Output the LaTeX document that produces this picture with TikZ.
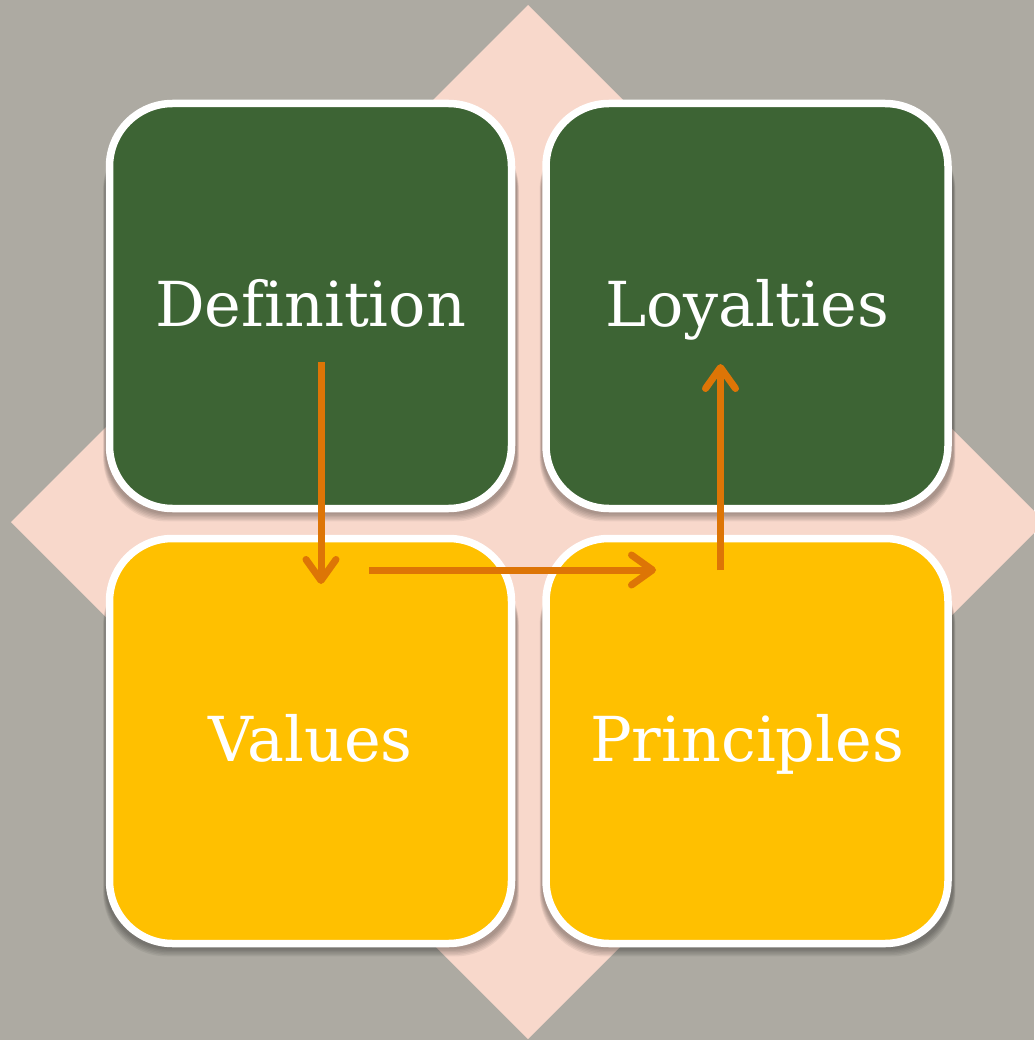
\documentclass[tikz,border=0pt]{standalone}
\usepackage{fontspec}
\setmainfont[Ligatures=CommonOff]{DejaVu Serif}
\usetikzlibrary{arrows.meta,calc}
\definecolor{bggrey}{RGB}{173,170,162}
\definecolor{diapink}{RGB}{248,216,203}
\definecolor{boxgreen}{RGB}{61,100,52}
\definecolor{boxyellow}{RGB}{255,192,0}
\definecolor{arrorange}{RGB}{221,117,6}
\tikzset{
  tile/.style={rectangle, rounded corners=63pt, draw=white, line width=7.5pt,
    minimum width=402pt, minimum height=405pt, text=white,
    font=\fontsize{62}{70}\selectfont, text height=48pt, text depth=8pt, inner sep=0pt},
  greentile/.style={tile, fill=boxgreen},
  yellowtile/.style={tile, fill=boxyellow},
  flow/.style={draw=arrorange, line width=7pt,
    -{Straight Barb[length=21pt, width=30pt, line cap=round, line join=round]}},
}
\newcommand{\softshadow}[2]{%
  \foreach \k in {1,...,6}{%
    \fill[black, opacity=0.06, rounded corners=64pt]
      ($(#1,#2)+(-205-0.4*\k,-180)$) rectangle
      ($(#1,#2)+(206+0.4*\k,207+1.4*\k)$);}%
}
\begin{document}
\begin{tikzpicture}[x=1pt,y=-1pt]
\fill[bggrey] (0,0) rectangle (1034,1040);
\useasboundingbox (0,0) rectangle (1034,1040);
\fill[diapink] (528,5) -- (1045,522) -- (528,1039) -- (11,522) -- cycle;
\softshadow{310.5}{306}
\softshadow{747}{306}
\softshadow{310.5}{741}
\softshadow{747}{741}
\node[greentile] (def) at (310.5,306) {Definition};
\node[greentile] (loy) at (747,306) {Loyalties};
\node[yellowtile] (val) at (310.5,741) {Values};
\node[yellowtile] (pri) at (747,741) {Principles};
\coordinate (a1s) at (321,362);
\coordinate (a1e) at (321,584);
\coordinate (a2s) at (369,570);
\coordinate (a2e) at (656,570);
\coordinate (a3s) at (720.5,570);
\coordinate (a3e) at (720.5,364);
\draw[flow] (a1s) -- (a1e);
\draw[flow] (a2s) -- (a2e);
\draw[flow] (a3s) -- (a3e);
\end{tikzpicture}
\end{document}
